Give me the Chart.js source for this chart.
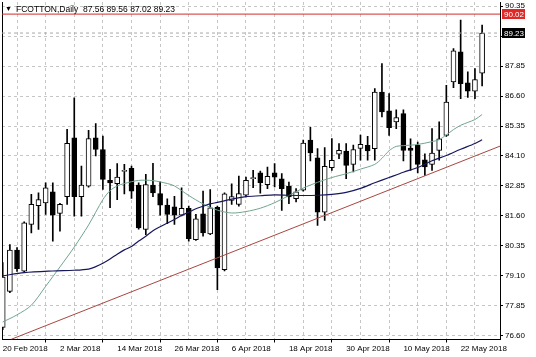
<!DOCTYPE html>
<html><head><meta charset="utf-8">
<script src="https://cdn.jsdelivr.net/npm/chart.js@4/dist/chart.umd.min.js"></script>
<style>html,body{margin:0;padding:0;background:#fff}canvas{display:block}</style>
</head><body>
<canvas id="c" width="536" height="357"></canvas>
<script>
// ---------- data ----------
const symbol = "FCOTTON,Daily";
const opens  = [76.95,78.45,80.17,79.29,81.24,82.03,82.14,82.60,81.70,82.40,84.86,82.40,82.84,84.86,84.37,83.08,82.94,83.45,83.58,82.88,81.03,82.88,82.53,82.05,81.98,81.63,81.91,80.61,81.69,80.85,81.96,79.36,82.25,82.08,82.46,83.15,83.40,82.90,83.40,83.15,82.83,82.32,82.67,84.76,84.02,81.75,83.61,84.17,84.30,83.75,84.41,84.54,84.40,86.77,85.98,85.52,85.87,84.43,84.54,83.94,83.75,84.33,84.96,87.19,88.45,87.15,86.80,87.56];
const highs  = [79.65,80.40,80.28,81.35,82.50,82.56,82.98,82.98,82.12,85.21,86.53,83.68,85.17,85.45,84.93,83.54,83.78,83.75,83.68,82.98,83.33,83.79,83.02,82.31,82.42,82.77,82.01,81.66,82.63,82.70,82.01,82.56,82.94,83.26,83.22,83.50,83.47,83.64,83.78,83.36,83.01,82.74,84.76,85.29,84.41,84.45,84.83,84.62,84.62,84.55,84.97,84.92,86.91,87.96,86.70,86.03,86.03,84.82,84.68,84.19,85.24,85.52,87.05,88.58,89.77,87.61,87.75,89.56];
const lows   = [76.85,78.40,79.28,79.25,80.89,81.03,81.66,80.54,80.96,82.08,81.59,81.59,82.80,84.10,82.70,81.94,82.28,82.52,82.33,81.05,80.82,82.40,81.63,81.27,81.24,81.60,80.54,80.58,80.75,80.82,78.52,79.30,82.08,82.01,82.39,82.78,82.55,82.74,82.81,81.83,82.11,82.18,82.63,83.89,81.20,81.41,83.50,83.99,83.15,83.43,83.92,83.92,83.92,85.73,84.96,85.24,83.89,83.50,83.39,83.29,83.50,83.92,84.92,86.95,86.49,86.54,86.49,87.02];
const closes = [79.05,80.17,79.40,81.31,82.08,82.28,82.77,81.63,82.08,84.63,82.40,82.88,84.83,84.37,83.12,82.98,83.22,83.50,82.63,81.10,82.91,82.56,82.05,81.66,81.63,81.91,80.65,81.48,80.89,81.94,79.43,82.52,82.40,82.53,83.08,83.20,82.99,83.25,83.22,82.74,82.39,82.60,84.64,84.23,81.75,83.67,83.92,84.34,83.71,84.37,84.59,84.31,86.77,85.94,85.28,85.70,84.33,84.33,83.75,83.64,84.22,84.82,86.35,88.49,87.12,86.80,87.29,89.23];

// fast moving average (green), read at these bar indices
const maFastBars = [0,2,4,6,8,10,12,14,15,16,17,19,21,23,24,26,28,30,32,34,36,38,40,42,44,46,48,50,52,53,54,55,56,58,60,61,62,63,64,65,66,67];
const maFastVals = [77.17,77.47,77.87,78.66,79.47,80.30,81.22,82.28,82.65,82.85,82.95,83.08,83.07,82.95,82.85,82.45,82.10,81.84,81.72,81.78,81.92,82.15,82.45,82.76,83.00,83.20,83.36,83.55,83.75,84.00,84.32,84.50,84.53,84.58,84.70,84.78,84.98,85.20,85.38,85.50,85.62,85.83];
// slow moving average (navy)
const maSlowBars = [0,3,7,10,12,13,14,15,16,17,18,19,20,21,22,23,24,25,26,27,28,29,30,32,34,36,38,40,42,44,46,48,50,52,54,56,58,60,62,64,66,67];
const maSlowVals = [79.10,79.23,79.30,79.33,79.38,79.48,79.62,79.80,80.00,80.18,80.32,80.55,80.75,80.98,81.15,81.30,81.45,81.62,81.75,81.90,82.00,82.10,82.16,82.30,82.40,82.44,82.48,82.46,82.45,82.46,82.50,82.58,82.75,82.98,83.20,83.42,83.62,83.90,84.12,84.38,84.62,84.78];
// trend line anchors
const trendBars = [1.2, 69.5];
const trendVals = [76.45, 84.51];
// horizontal level
const levelPrice = 90.02;

// axis ticks
const yTicks = [76.60,77.85,79.10,80.35,81.60,82.85,84.10,85.35,86.60,87.85,89.10,90.35];
const gridBars = [0,4,8,12,16,20,24,28,32,36,40,44,48,52,56,60,64,68];
const labelBars = [0,8,16,24,32,40,48,56,64];
const labelTexts = ["20 Feb 2018","2 Mar 2018","14 Mar 2018","26 Mar 2018","6 Apr 2018","18 Apr 2018","30 Apr 2018","10 May 2018","22 May 2018"];

// ---------- chart ----------
const X_MIN = -0.1, X_MAX = 69.5, Y_MIN = 76.441, Y_MAX = 90.525;
const FONT = '"Liberation Sans", Arial, sans-serif';
const n = closes.length - 1;
const lastClose = closes[n];

const wickData = closes.map((c, i) => ({x: i, y: [lows[i], highs[i]]}));
const bodyData = closes.map((c, i) => ({x: i, y: [opens[i], closes[i]]}));
const pts = (xs, ys) => xs.map((x, i) => ({x: x, y: ys[i]}));

const overlay = {
  id: 'overlay',
  afterDraw(chart) {
    const ctx = chart.ctx, ya = chart.scales.y, area = chart.chartArea;
    ctx.save();
    // header
    ctx.fillStyle = '#000';
    ctx.textBaseline = 'middle';
    ctx.font = '7px ' + FONT;
    ctx.fillText('\u25BC', 5, 9.5);
    ctx.font = '8.5px ' + FONT;
    ctx.fillText(symbol + '  ' + [opens[n], highs[n], lows[n], closes[n]].map(v => v.toFixed(2)).join(' '), 16, 9.5);
    // price boxes
    const box = (price, bg) => {
      const y = Math.round(ya.getPixelForValue(price));
      ctx.fillStyle = bg;
      ctx.fillRect(area.right + 2, y - 5, 23, 10);
      ctx.fillStyle = '#fff';
      ctx.font = '8px ' + FONT;
      ctx.textBaseline = 'middle';
      ctx.fillText(price.toFixed(2), area.right + 4, y + 0.5);
    };
    box(levelPrice, '#e02828');
    box(lastClose, '#000');
    ctx.restore();
  }
};

new Chart(document.getElementById('c'), {
  data: {
    datasets: [
      {type: 'bar', data: wickData, backgroundColor: '#000', barThickness: 1, grouped: false, order: 5},
      {type: 'bar', data: bodyData, grouped: false, order: 4, barThickness: 5,
        backgroundColor: bodyData.map((d, i) => closes[i] >= opens[i] ? '#fff' : '#000'),
        borderColor: '#000', borderWidth: 1, borderSkipped: false},
      {type: 'line', data: pts(trendBars, trendVals), borderColor: '#a8463f', borderWidth: 1, pointRadius: 0, order: 3},
      {type: 'line', data: pts(maFastBars, maFastVals), borderColor: '#6fa58c', borderWidth: 1, pointRadius: 0, tension: 0.3, order: 2},
      {type: 'line', data: pts(maSlowBars, maSlowVals), borderColor: '#17175e', borderWidth: 1.2, pointRadius: 0, tension: 0.3, order: 1},
      {type: 'line', data: [{x: X_MIN, y: levelPrice}, {x: X_MAX, y: levelPrice}], borderColor: '#d02a2a', borderWidth: 1, pointRadius: 0, order: 0},
      {type: 'line', data: [{x: X_MIN, y: lastClose}, {x: X_MAX, y: lastClose}], borderColor: '#a8a8a8', borderWidth: 1, borderDash: [3, 3], pointRadius: 0, order: 0}
    ]
  },
  options: {
    responsive: false,
    animation: false,
    events: [],
    devicePixelRatio: 1,
    layout: {padding: {top: 2, left: 0, right: 0, bottom: 0}},
    plugins: {legend: {display: false}, tooltip: {enabled: false}, title: {display: false}},
    scales: {
      x: {
        type: 'linear', min: X_MIN, max: X_MAX, offset: false,
        afterBuildTicks: s => { s.ticks = gridBars.map(v => ({value: v})); },
        ticks: {autoSkip: false, maxRotation: 0, minRotation: 0, align: 'start', padding: 1, color: '#000',
          font: {family: FONT, size: 8},
          callback: v => { const k = labelBars.indexOf(v); return k >= 0 ? labelTexts[k] : ''; }},
        grid: {color: '#c6c6c6', lineWidth: 1, tickLength: 3, tickBorderDash: [],
          tickColor: c => (c.tick && labelBars.includes(c.tick.value)) ? '#000' : 'rgba(0,0,0,0)'},
        border: {display: true, color: '#000', width: 1, dash: [3, 3]},
        afterFit: s => { s.height = 17.5; s.paddingLeft = 0; s.paddingRight = 0; }
      },
      y: {
        type: 'linear', position: 'right', min: Y_MIN, max: Y_MAX,
        afterBuildTicks: s => { s.ticks = yTicks.map(v => ({value: v})); },
        ticks: {color: '#000', padding: 2, font: {family: FONT, size: 8},
          callback: v => Math.abs(v - lastClose) < 0.2 ? '' : v.toFixed(2)},
        grid: {color: '#c6c6c6', lineWidth: 1, tickLength: 3, tickColor: '#000', tickBorderDash: []},
        border: {display: true, color: '#000', width: 1, dash: [3, 3]},
        afterFit: s => { s.width = 36; s.paddingTop = 0; s.paddingBottom = 0; }
      },
      yL: {
        type: 'linear', position: 'left', min: Y_MIN, max: Y_MAX,
        ticks: {display: false},
        grid: {display: false, drawTicks: false},
        border: {display: true, color: '#000', width: 1},
        afterFit: s => { s.width = 2; s.paddingTop = 0; s.paddingBottom = 0; }
      }
    }
  },
  plugins: [overlay]
});
</script>
</body></html>
